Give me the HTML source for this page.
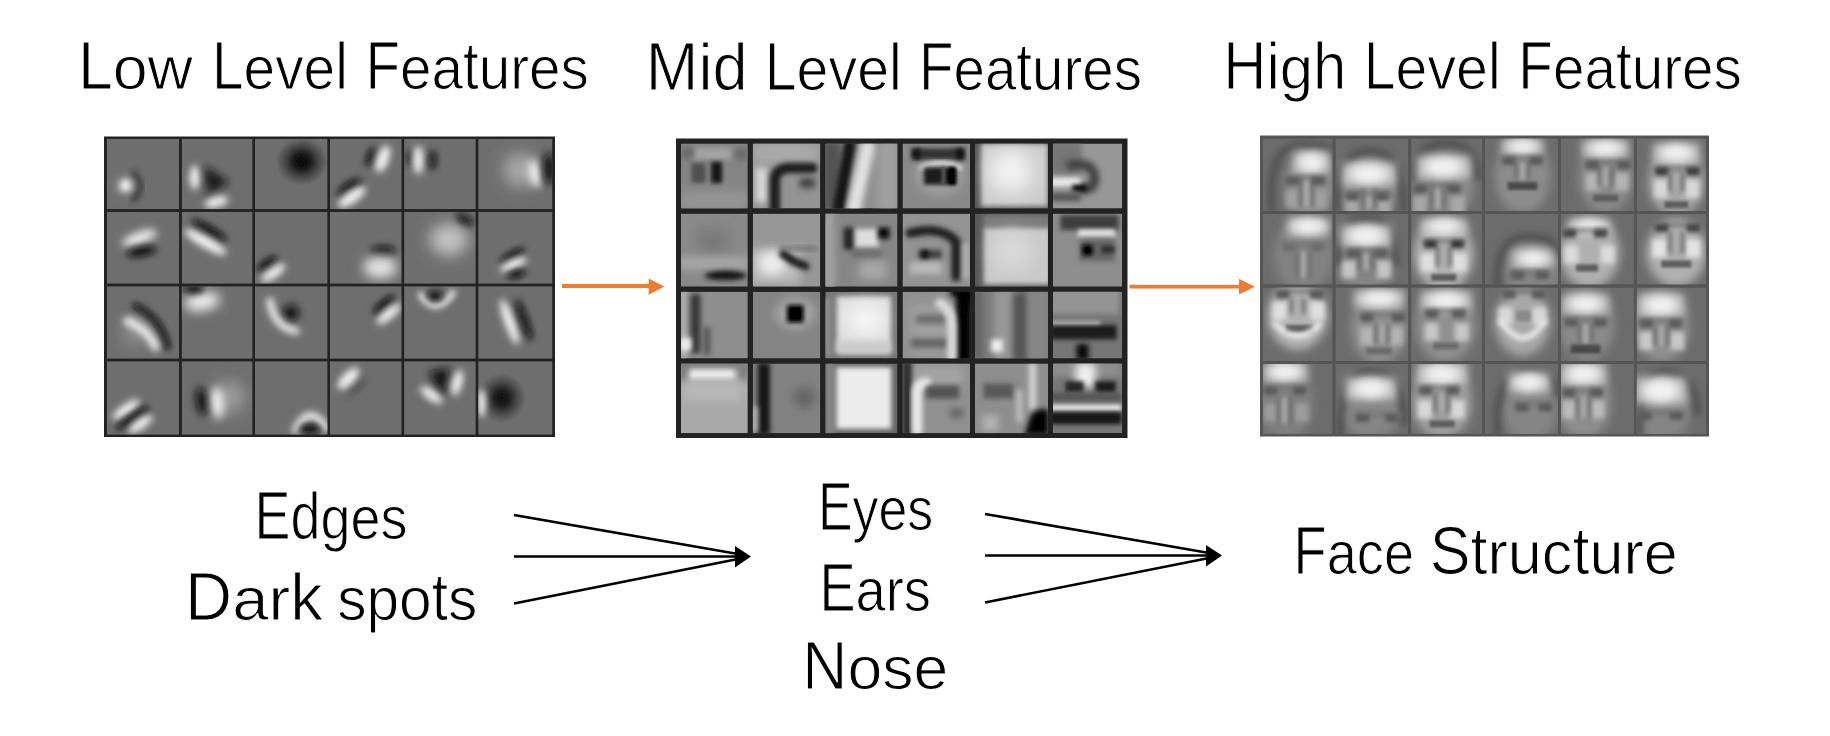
<!DOCTYPE html>
<html><head><meta charset="utf-8">
<style>
html,body{margin:0;padding:0;background:#fff;width:1830px;height:736px;overflow:hidden}
svg{display:block}
text{font-family:"Liberation Sans",sans-serif;fill:#000;stroke:#fff;stroke-width:1.1px;paint-order:normal}
</style></head><body>
<svg width="1830" height="736" viewBox="0 0 1830 736">
<defs>
<radialGradient id="rg1"><stop offset="0" stop-color="#000000" stop-opacity="0.95"/><stop offset="0.3" stop-color="#000000" stop-opacity="0.8"/><stop offset="0.65" stop-color="#000000" stop-opacity="0.35"/><stop offset="1" stop-color="#000000" stop-opacity="0"/></radialGradient>
<radialGradient id="rg2"><stop offset="0" stop-color="#0a0a0a" stop-opacity="0.95"/><stop offset="0.3" stop-color="#0a0a0a" stop-opacity="0.8"/><stop offset="0.65" stop-color="#0a0a0a" stop-opacity="0.35"/><stop offset="1" stop-color="#0a0a0a" stop-opacity="0"/></radialGradient>
<filter id="mgam" x="0" y="0" width="1830" height="736" filterUnits="userSpaceOnUse"><feComponentTransfer><feFuncR type="gamma" exponent="1.25"/><feFuncG type="gamma" exponent="1.25"/><feFuncB type="gamma" exponent="1.25"/></feComponentTransfer></filter>
<filter id="gblur" x="0" y="0" width="1830" height="736" filterUnits="userSpaceOnUse"><feGaussianBlur stdDeviation="0.7"/></filter>
<filter id="b1_50" x="-80%" y="-80%" width="260%" height="260%"><feGaussianBlur stdDeviation="1.5"/></filter>
<filter id="b1_75" x="-80%" y="-80%" width="260%" height="260%"><feGaussianBlur stdDeviation="1.75"/></filter>
<filter id="b2_00" x="-80%" y="-80%" width="260%" height="260%"><feGaussianBlur stdDeviation="2.0"/></filter>
<filter id="b2_25" x="-80%" y="-80%" width="260%" height="260%"><feGaussianBlur stdDeviation="2.25"/></filter>
<filter id="b2_50" x="-80%" y="-80%" width="260%" height="260%"><feGaussianBlur stdDeviation="2.5"/></filter>
<filter id="b3_00" x="-80%" y="-80%" width="260%" height="260%"><feGaussianBlur stdDeviation="3.0"/></filter>
<filter id="b3_25" x="-80%" y="-80%" width="260%" height="260%"><feGaussianBlur stdDeviation="3.25"/></filter>
<filter id="b3_50" x="-80%" y="-80%" width="260%" height="260%"><feGaussianBlur stdDeviation="3.5"/></filter>
<filter id="b4_00" x="-80%" y="-80%" width="260%" height="260%"><feGaussianBlur stdDeviation="4.0"/></filter>
<filter id="b4_25" x="-80%" y="-80%" width="260%" height="260%"><feGaussianBlur stdDeviation="4.25"/></filter>
<filter id="b4_50" x="-80%" y="-80%" width="260%" height="260%"><feGaussianBlur stdDeviation="4.5"/></filter>
<filter id="b4_75" x="-80%" y="-80%" width="260%" height="260%"><feGaussianBlur stdDeviation="4.75"/></filter>
<filter id="b5_00" x="-80%" y="-80%" width="260%" height="260%"><feGaussianBlur stdDeviation="5.0"/></filter>
<filter id="b5_75" x="-80%" y="-80%" width="260%" height="260%"><feGaussianBlur stdDeviation="5.75"/></filter>
<filter id="b6_50" x="-80%" y="-80%" width="260%" height="260%"><feGaussianBlur stdDeviation="6.5"/></filter>
<filter id="b7_25" x="-80%" y="-80%" width="260%" height="260%"><feGaussianBlur stdDeviation="7.25"/></filter>
<filter id="b8_00" x="-80%" y="-80%" width="260%" height="260%"><feGaussianBlur stdDeviation="8.0"/></filter>
<filter id="b9_50" x="-80%" y="-80%" width="260%" height="260%"><feGaussianBlur stdDeviation="9.5"/></filter>
<clipPath id="L00"><rect x="106.7" y="138.7" width="72.5" height="70.6"/></clipPath>
<clipPath id="L01"><rect x="181.6" y="138.7" width="71" height="70.6"/></clipPath>
<clipPath id="L02"><rect x="255" y="138.7" width="72.6" height="70.6"/></clipPath>
<clipPath id="L03"><rect x="330" y="138.7" width="71.7" height="70.6"/></clipPath>
<clipPath id="L04"><rect x="404.1" y="138.7" width="71.7" height="70.6"/></clipPath>
<clipPath id="L05"><rect x="478.2" y="138.7" width="74.3" height="70.6"/></clipPath>
<clipPath id="L10"><rect x="106.7" y="211.7" width="72.5" height="72.1"/></clipPath>
<clipPath id="L11"><rect x="181.6" y="211.7" width="71" height="72.1"/></clipPath>
<clipPath id="L12"><rect x="255" y="211.7" width="72.6" height="72.1"/></clipPath>
<clipPath id="L13"><rect x="330" y="211.7" width="71.7" height="72.1"/></clipPath>
<clipPath id="L14"><rect x="404.1" y="211.7" width="71.7" height="72.1"/></clipPath>
<clipPath id="L15"><rect x="478.2" y="211.7" width="74.3" height="72.1"/></clipPath>
<clipPath id="L20"><rect x="106.7" y="286.2" width="72.5" height="72.6"/></clipPath>
<clipPath id="L21"><rect x="181.6" y="286.2" width="71" height="72.6"/></clipPath>
<clipPath id="L22"><rect x="255" y="286.2" width="72.6" height="72.6"/></clipPath>
<clipPath id="L23"><rect x="330" y="286.2" width="71.7" height="72.6"/></clipPath>
<clipPath id="L24"><rect x="404.1" y="286.2" width="71.7" height="72.6"/></clipPath>
<clipPath id="L25"><rect x="478.2" y="286.2" width="74.3" height="72.6"/></clipPath>
<clipPath id="L30"><rect x="106.7" y="361.2" width="72.5" height="73.6"/></clipPath>
<clipPath id="L31"><rect x="181.6" y="361.2" width="71" height="73.6"/></clipPath>
<clipPath id="L32"><rect x="255" y="361.2" width="72.6" height="73.6"/></clipPath>
<clipPath id="L33"><rect x="330" y="361.2" width="71.7" height="73.6"/></clipPath>
<clipPath id="L34"><rect x="404.1" y="361.2" width="71.7" height="73.6"/></clipPath>
<clipPath id="L35"><rect x="478.2" y="361.2" width="74.3" height="73.6"/></clipPath>
<clipPath id="M00"><rect x="681" y="143.5" width="66.8" height="65.1"/></clipPath>
<clipPath id="M01"><rect x="752.8" y="143.5" width="67.5" height="65.1"/></clipPath>
<clipPath id="M02"><rect x="825.3" y="143.5" width="72.2" height="65.1"/></clipPath>
<clipPath id="M03"><rect x="902.5" y="143.5" width="67.5" height="65.1"/></clipPath>
<clipPath id="M04"><rect x="975" y="143.5" width="73" height="65.1"/></clipPath>
<clipPath id="M05"><rect x="1053" y="143.5" width="69.2" height="65.1"/></clipPath>
<clipPath id="M10"><rect x="681" y="213.6" width="66.8" height="73.1"/></clipPath>
<clipPath id="M11"><rect x="752.8" y="213.6" width="67.5" height="73.1"/></clipPath>
<clipPath id="M12"><rect x="825.3" y="213.6" width="72.2" height="73.1"/></clipPath>
<clipPath id="M13"><rect x="902.5" y="213.6" width="67.5" height="73.1"/></clipPath>
<clipPath id="M14"><rect x="975" y="213.6" width="73" height="73.1"/></clipPath>
<clipPath id="M15"><rect x="1053" y="213.6" width="69.2" height="73.1"/></clipPath>
<clipPath id="M20"><rect x="681" y="291.7" width="66.8" height="66.8"/></clipPath>
<clipPath id="M21"><rect x="752.8" y="291.7" width="67.5" height="66.8"/></clipPath>
<clipPath id="M22"><rect x="825.3" y="291.7" width="72.2" height="66.8"/></clipPath>
<clipPath id="M23"><rect x="902.5" y="291.7" width="67.5" height="66.8"/></clipPath>
<clipPath id="M24"><rect x="975" y="291.7" width="73" height="66.8"/></clipPath>
<clipPath id="M25"><rect x="1053" y="291.7" width="69.2" height="66.8"/></clipPath>
<clipPath id="M30"><rect x="681" y="363.5" width="66.8" height="69.8"/></clipPath>
<clipPath id="M31"><rect x="752.8" y="363.5" width="67.5" height="69.8"/></clipPath>
<clipPath id="M32"><rect x="825.3" y="363.5" width="72.2" height="69.8"/></clipPath>
<clipPath id="M33"><rect x="902.5" y="363.5" width="67.5" height="69.8"/></clipPath>
<clipPath id="M34"><rect x="975" y="363.5" width="73" height="69.8"/></clipPath>
<clipPath id="M35"><rect x="1053" y="363.5" width="69.2" height="69.8"/></clipPath>
<clipPath id="R00"><rect x="1262.9" y="138.4" width="69.7" height="72.7"/></clipPath>
<clipPath id="R01"><rect x="1335.4" y="138.4" width="72.9" height="72.7"/></clipPath>
<clipPath id="R02"><rect x="1411.1" y="138.4" width="71" height="72.7"/></clipPath>
<clipPath id="R03"><rect x="1484.9" y="138.4" width="73.2" height="72.7"/></clipPath>
<clipPath id="R04"><rect x="1560.9" y="138.4" width="73" height="72.7"/></clipPath>
<clipPath id="R05"><rect x="1636.7" y="138.4" width="69.4" height="72.7"/></clipPath>
<clipPath id="R10"><rect x="1262.9" y="213.9" width="69.7" height="70.7"/></clipPath>
<clipPath id="R11"><rect x="1335.4" y="213.9" width="72.9" height="70.7"/></clipPath>
<clipPath id="R12"><rect x="1411.1" y="213.9" width="71" height="70.7"/></clipPath>
<clipPath id="R13"><rect x="1484.9" y="213.9" width="73.2" height="70.7"/></clipPath>
<clipPath id="R14"><rect x="1560.9" y="213.9" width="73" height="70.7"/></clipPath>
<clipPath id="R15"><rect x="1636.7" y="213.9" width="69.4" height="70.7"/></clipPath>
<clipPath id="R20"><rect x="1262.9" y="287.4" width="69.7" height="73.7"/></clipPath>
<clipPath id="R21"><rect x="1335.4" y="287.4" width="72.9" height="73.7"/></clipPath>
<clipPath id="R22"><rect x="1411.1" y="287.4" width="71" height="73.7"/></clipPath>
<clipPath id="R23"><rect x="1484.9" y="287.4" width="73.2" height="73.7"/></clipPath>
<clipPath id="R24"><rect x="1560.9" y="287.4" width="73" height="73.7"/></clipPath>
<clipPath id="R25"><rect x="1636.7" y="287.4" width="69.4" height="73.7"/></clipPath>
<clipPath id="R30"><rect x="1262.9" y="363.9" width="69.7" height="70.2"/></clipPath>
<clipPath id="R31"><rect x="1335.4" y="363.9" width="72.9" height="70.2"/></clipPath>
<clipPath id="R32"><rect x="1411.1" y="363.9" width="71" height="70.2"/></clipPath>
<clipPath id="R33"><rect x="1484.9" y="363.9" width="73.2" height="70.2"/></clipPath>
<clipPath id="R34"><rect x="1560.9" y="363.9" width="73" height="70.2"/></clipPath>
<clipPath id="R35"><rect x="1636.7" y="363.9" width="69.4" height="70.2"/></clipPath>
</defs>
<g filter="url(#gblur)">
<rect x="104" y="136.5" width="451" height="300.5" fill="#222222"/>
<g clip-path="url(#L00)"><rect x="106.7" y="138.7" width="72.5" height="70.6" fill="#6e6e6e"/><g transform="translate(105.5 137.5)"><path d="M28,36 Q40,48 28,62" fill="none" stroke="#282828" stroke-width="5" stroke-linecap="round" filter="url(#b3_00)"/><ellipse cx="19" cy="48" rx="11" ry="11" fill="#7e7e7e" filter="url(#b4_25)"/><ellipse cx="20" cy="48" rx="6" ry="6.5" fill="#f4f4f4" filter="url(#b3_25)"/></g></g>
<g clip-path="url(#L01)"><rect x="181.6" y="138.7" width="71" height="70.6" fill="#6e6e6e"/><g transform="translate(180.4 137.5)"><ellipse cx="14.4" cy="40" rx="5" ry="12" fill="#f4f4f4" filter="url(#b3_50)"/><path d="M24,28 L49,45 L27,57z" fill="#151515" filter="url(#b4_25)"/><ellipse cx="36" cy="64.6" rx="12" ry="5" fill="#f4f4f4" transform="rotate(-15 36 64.6)" filter="url(#b3_50)"/></g></g>
<g clip-path="url(#L02)"><rect x="255" y="138.7" width="72.6" height="70.6" fill="#6e6e6e"/><g transform="translate(253.8 137.5)"><ellipse cx="48" cy="24" rx="26" ry="24" fill="url(#rg1)"/></g></g>
<g clip-path="url(#L03)"><rect x="330" y="138.7" width="71.7" height="70.6" fill="#6e6e6e"/><g transform="translate(328.8 137.5)"><ellipse cx="42" cy="19.5" rx="4" ry="10" fill="#0e0e0e" transform="rotate(20 42 19.5)" filter="url(#b3_50)"/><ellipse cx="54" cy="21.5" rx="6" ry="14" fill="#f4f4f4" transform="rotate(20 54 21.5)" filter="url(#b3_50)"/><ellipse cx="20.5" cy="50" rx="14" ry="5" fill="#0e0e0e" transform="rotate(-35 20.5 50)" filter="url(#b3_50)"/><ellipse cx="23" cy="59.5" rx="16" ry="6" fill="#f4f4f4" transform="rotate(-35 23 59.5)" filter="url(#b3_50)"/></g></g>
<g clip-path="url(#L04)"><rect x="404.1" y="138.7" width="71.7" height="70.6" fill="#6e6e6e"/><g transform="translate(402.9 137.5)"><ellipse cx="6" cy="20.5" rx="3" ry="8" fill="#222" filter="url(#b3_00)"/><ellipse cx="15.4" cy="22.6" rx="5" ry="14" fill="#f4f4f4" filter="url(#b3_50)"/><ellipse cx="29.8" cy="22.6" rx="3.5" ry="10" fill="#0e0e0e" filter="url(#b3_50)"/></g></g>
<g clip-path="url(#L05)"><rect x="478.2" y="138.7" width="74.3" height="70.6" fill="#6e6e6e"/><g transform="translate(477 137.5)"><ellipse cx="43.5" cy="32.8" rx="17" ry="17" fill="#a8a8a8" filter="url(#b7_25)"/><ellipse cx="57.9" cy="36" rx="6" ry="14" fill="#f4f4f4" transform="rotate(-10 57.9 36)" filter="url(#b4_25)"/><ellipse cx="72" cy="31" rx="6" ry="16" fill="#0e0e0e" filter="url(#b4_25)"/></g></g>
<g clip-path="url(#L10)"><rect x="106.7" y="211.7" width="72.5" height="72.1" fill="#6e6e6e"/><g transform="translate(105.5 210.5)"><ellipse cx="34" cy="27.5" rx="18" ry="6" fill="#f4f4f4" transform="rotate(-20 34 27.5)" filter="url(#b4_25)"/><ellipse cx="36" cy="41" rx="15" ry="5" fill="#0e0e0e" transform="rotate(-10 36 41)" filter="url(#b3_50)"/></g></g>
<g clip-path="url(#L11)"><rect x="181.6" y="211.7" width="71" height="72.1" fill="#6e6e6e"/><g transform="translate(180.4 210.5)"><ellipse cx="29" cy="20" rx="20" ry="4.5" fill="#0e0e0e" transform="rotate(30 29 20)" filter="url(#b3_50)"/><ellipse cx="25" cy="31.6" rx="24" ry="5.5" fill="#f4f4f4" transform="rotate(30 25 31.6)" filter="url(#b3_50)"/></g></g>
<g clip-path="url(#L12)"><rect x="255" y="211.7" width="72.6" height="72.1" fill="#6e6e6e"/><g transform="translate(253.8 210.5)"><ellipse cx="13.3" cy="53" rx="12" ry="4" fill="#0e0e0e" transform="rotate(-35 13.3 53)" filter="url(#b3_00)"/><ellipse cx="19.5" cy="62.4" rx="14" ry="5" fill="#f4f4f4" transform="rotate(-35 19.5 62.4)" filter="url(#b3_50)"/></g></g>
<g clip-path="url(#L13)"><rect x="330" y="211.7" width="71.7" height="72.1" fill="#6e6e6e"/><g transform="translate(328.8 210.5)"><ellipse cx="54.4" cy="40" rx="12" ry="4.5" fill="#0e0e0e" filter="url(#b3_50)"/><ellipse cx="51.3" cy="57" rx="17" ry="11" fill="#e4e4e4" filter="url(#b5_75)"/></g></g>
<g clip-path="url(#L14)"><rect x="404.1" y="211.7" width="71.7" height="72.1" fill="#6e6e6e"/><g transform="translate(402.9 210.5)"><ellipse cx="46" cy="29" rx="19" ry="16" fill="#c4c4c4" filter="url(#b7_25)"/><ellipse cx="62" cy="9" rx="10" ry="4" fill="#0e0e0e" transform="rotate(30 62 9)" filter="url(#b3_50)"/></g></g>
<g clip-path="url(#L15)"><rect x="478.2" y="211.7" width="74.3" height="72.1" fill="#6e6e6e"/><g transform="translate(477 210.5)"><ellipse cx="35.3" cy="45" rx="14" ry="4" fill="#0e0e0e" transform="rotate(-30 35.3 45)" filter="url(#b3_00)"/><ellipse cx="36.3" cy="54" rx="14" ry="5" fill="#f4f4f4" transform="rotate(-25 36.3 54)" filter="url(#b3_50)"/><ellipse cx="39.4" cy="63.5" rx="10" ry="4" fill="#0e0e0e" transform="rotate(-15 39.4 63.5)" filter="url(#b3_00)"/></g></g>
<g clip-path="url(#L20)"><rect x="106.7" y="286.2" width="72.5" height="72.6" fill="#6e6e6e"/><g transform="translate(105.5 285)"><ellipse cx="30" cy="48" rx="14" ry="14" fill="#8a8a8a" filter="url(#b7_25)"/><path d="M30,21 Q56,33 62,62" fill="none" stroke="#0e0e0e" stroke-width="6" stroke-linecap="round" filter="url(#b3_25)"/><path d="M22,36 Q44,46 50,62" fill="none" stroke="#f4f4f4" stroke-width="8" stroke-linecap="round" filter="url(#b3_50)"/></g></g>
<g clip-path="url(#L21)"><rect x="181.6" y="286.2" width="71" height="72.6" fill="#6e6e6e"/><g transform="translate(180.4 285)"><ellipse cx="21.7" cy="16.5" rx="18" ry="9" fill="#f4f4f4" transform="rotate(-10 21.7 16.5)" filter="url(#b5_75)"/><ellipse cx="13.4" cy="4" rx="10" ry="4" fill="#0e0e0e" filter="url(#b3_00)"/></g></g>
<g clip-path="url(#L22)"><rect x="255" y="286.2" width="72.6" height="72.6" fill="#6e6e6e"/><g transform="translate(253.8 285)"><ellipse cx="37" cy="28" rx="8" ry="8" fill="#0e0e0e" filter="url(#b4_25)"/><path d="M16,16 Q20,42 42,46" fill="none" stroke="#f4f4f4" stroke-width="7" stroke-linecap="round" filter="url(#b3_50)"/></g></g>
<g clip-path="url(#L23)"><rect x="330" y="286.2" width="71.7" height="72.6" fill="#6e6e6e"/><g transform="translate(328.8 285)"><ellipse cx="55" cy="19.6" rx="14" ry="4" fill="#0e0e0e" transform="rotate(-40 55 19.6)" filter="url(#b3_00)"/><ellipse cx="60" cy="29" rx="15" ry="5" fill="#f4f4f4" transform="rotate(-40 60 29)" filter="url(#b3_50)"/></g></g>
<g clip-path="url(#L24)"><rect x="404.1" y="286.2" width="71.7" height="72.6" fill="#6e6e6e"/><g transform="translate(402.9 285)"><path d="M18,10 Q33,32 50,8" fill="none" stroke="#f4f4f4" stroke-width="6" stroke-linecap="round" filter="url(#b3_25)"/><ellipse cx="32" cy="11" rx="8" ry="5" fill="#0e0e0e" filter="url(#b3_50)"/></g></g>
<g clip-path="url(#L25)"><rect x="478.2" y="286.2" width="74.3" height="72.6" fill="#6e6e6e"/><g transform="translate(477 285)"><ellipse cx="32.6" cy="37" rx="5" ry="24" fill="#f4f4f4" transform="rotate(-20 32.6 37)" filter="url(#b3_50)"/><ellipse cx="47" cy="35" rx="4" ry="22" fill="#0e0e0e" transform="rotate(-20 47 35)" filter="url(#b3_50)"/></g></g>
<g clip-path="url(#L30)"><rect x="106.7" y="361.2" width="72.5" height="73.6" fill="#6e6e6e"/><g transform="translate(105.5 360)"><ellipse cx="20.7" cy="49.6" rx="16" ry="5" fill="#f4f4f4" transform="rotate(-35 20.7 49.6)" filter="url(#b3_50)"/><ellipse cx="26.9" cy="57.9" rx="20" ry="4" fill="#0e0e0e" transform="rotate(-35 26.9 57.9)" filter="url(#b3_00)"/><ellipse cx="35" cy="64" rx="14" ry="5" fill="#f4f4f4" transform="rotate(-35 35 64)" filter="url(#b3_50)"/></g></g>
<g clip-path="url(#L31)"><rect x="181.6" y="361.2" width="71" height="73.6" fill="#6e6e6e"/><g transform="translate(180.4 360)"><ellipse cx="48.6" cy="37" rx="16" ry="16" fill="#9c9c9c" filter="url(#b7_25)"/><ellipse cx="21.7" cy="41.3" rx="6" ry="14" fill="#0e0e0e" transform="rotate(-10 21.7 41.3)" filter="url(#b4_25)"/><ellipse cx="37" cy="43" rx="6" ry="16" fill="#f4f4f4" transform="rotate(-5 37 43)" filter="url(#b4_25)"/></g></g>
<g clip-path="url(#L32)"><rect x="255" y="361.2" width="72.6" height="73.6" fill="#6e6e6e"/><g transform="translate(253.8 360)"><path d="M42,70 Q56,42 72,68" fill="none" stroke="#f4f4f4" stroke-width="7" stroke-linecap="round" filter="url(#b3_50)"/><ellipse cx="56" cy="69" rx="11" ry="4.5" fill="#0e0e0e" filter="url(#b3_25)"/></g></g>
<g clip-path="url(#L33)"><rect x="330" y="361.2" width="71.7" height="73.6" fill="#6e6e6e"/><g transform="translate(328.8 360)"><ellipse cx="28" cy="26" rx="12" ry="3" fill="#404040" transform="rotate(-45 28 26)" filter="url(#b4_25)"/><ellipse cx="19.6" cy="18.6" rx="14" ry="6" fill="#f4f4f4" transform="rotate(-45 19.6 18.6)" filter="url(#b3_50)"/></g></g>
<g clip-path="url(#L34)"><rect x="404.1" y="361.2" width="71.7" height="73.6" fill="#6e6e6e"/><g transform="translate(402.9 360)"><path d="M26,12 L47,8 L40,38z" fill="#0e0e0e" filter="url(#b4_25)"/><ellipse cx="54.3" cy="22.7" rx="5" ry="13" fill="#f4f4f4" transform="rotate(15 54.3 22.7)" filter="url(#b3_50)"/><ellipse cx="28.5" cy="35" rx="13" ry="5" fill="#f4f4f4" transform="rotate(35 28.5 35)" filter="url(#b3_50)"/></g></g>
<g clip-path="url(#L35)"><rect x="478.2" y="361.2" width="74.3" height="73.6" fill="#6e6e6e"/><g transform="translate(477 360)"><ellipse cx="25" cy="38" rx="24" ry="25" fill="url(#rg2)"/><ellipse cx="4.8" cy="43" rx="4" ry="14" fill="#f4f4f4" filter="url(#b3_00)"/></g></g>
<g filter="url(#mgam)">
<rect x="676" y="138.5" width="451.5" height="299.5" fill="#383838"/>
<g clip-path="url(#M00)"><rect x="681" y="143.5" width="66.8" height="65.1" fill="#989898"/><g transform="translate(678.5 141)"><rect x="14.5" y="6.9" width="45" height="11.5" fill="#b4b4b4" filter="url(#b2_50)"/><rect x="3" y="7" width="12" height="10" fill="#7a7a7a" filter="url(#b3_25)"/><rect x="54" y="7" width="16" height="12" fill="#808080" filter="url(#b3_25)"/><rect x="13" y="22" width="14" height="20" fill="#666666" filter="url(#b2_00)"/><rect x="32.8" y="21" width="10.5" height="21" fill="#2a2a2a" filter="url(#b2_00)"/><rect x="2" y="50" width="66" height="20" fill="#a5a5a5" filter="url(#b4_75)"/></g></g>
<g clip-path="url(#M01)"><rect x="752.8" y="143.5" width="67.5" height="65.1" fill="#a5a5a5"/><g transform="translate(750.3 141)"><rect x="2" y="2" width="66" height="20" fill="#b8b8b8" filter="url(#b4_75)"/><rect x="5" y="26.5" width="12" height="35" fill="#e0e0e0" filter="url(#b3_25)"/><path d="M24.5,72 L24.5,38 Q26,27 40,27 L62,27" fill="none" stroke="#303030" stroke-width="10" stroke-linecap="round" filter="url(#b2_50)"/><rect x="49.5" y="37" width="15" height="10" fill="#5a5a5a" filter="url(#b3_25)"/></g></g>
<g clip-path="url(#M02)"><rect x="825.3" y="143.5" width="72.2" height="65.1" fill="#a0a0a0"/><g transform="translate(822.8 141)"><rect x="0" y="0" width="18" height="70" fill="#6a6a6a" filter="url(#b3_25)"/><rect x="55" y="0" width="20" height="70" fill="#b0b0b0" filter="url(#b4_75)"/><path d="M27,4 L16,68" fill="none" stroke="#2a2a2a" stroke-width="12" stroke-linecap="round" filter="url(#b2_50)"/><path d="M45,6 L31,68" fill="none" stroke="#e8e8e8" stroke-width="14" stroke-linecap="round" filter="url(#b3_25)"/></g></g>
<g clip-path="url(#M03)"><rect x="902.5" y="143.5" width="67.5" height="65.1" fill="#9c9c9c"/><g transform="translate(900 141)"><ellipse cx="40" cy="34" rx="24" ry="20" fill="#b0b0b0" filter="url(#b4_75)"/><rect x="14.5" y="7.5" width="49" height="11" fill="#4a4a4a" filter="url(#b2_00)"/><rect x="11.5" y="7.5" width="9" height="11" fill="#2a2a2a" filter="url(#b2_00)"/><rect x="55.5" y="7.5" width="9" height="11" fill="#2a2a2a" filter="url(#b2_00)"/><path d="M22,27 Q40,18 60,27" fill="none" stroke="#e4e4e4" stroke-width="5" stroke-linecap="round" filter="url(#b2_00)"/><rect x="24" y="26.5" width="32" height="17" fill="#333333" filter="url(#b2_00)"/><rect x="41.5" y="26.5" width="4" height="17" fill="#707070" filter="url(#b1_50)"/><rect x="48.5" y="26.5" width="7" height="17" fill="#101010" filter="url(#b1_50)"/></g></g>
<g clip-path="url(#M04)"><rect x="975" y="143.5" width="73" height="65.1" fill="#707070"/><g transform="translate(972.5 141)"><rect x="8.5" y="2.5" width="67" height="63" fill="#d6d6d6" filter="url(#b2_50)"/><ellipse cx="38" cy="30" rx="22" ry="22" fill="#f6f6f6" filter="url(#b9_50)"/></g></g>
<g clip-path="url(#M05)"><rect x="1053" y="143.5" width="69.2" height="65.1" fill="#a8a8a8"/><g transform="translate(1050.5 141)"><rect x="-1" y="-1" width="32" height="34" fill="#8a8a8a" filter="url(#b3_25)"/><path d="M20,24 Q44,20 44,38 Q44,50 30,48" fill="none" stroke="#555555" stroke-width="9" stroke-linecap="round" filter="url(#b3_25)"/><rect x="0" y="36.5" width="30" height="9" fill="#ececec" filter="url(#b2_00)"/><rect x="22" y="44" width="14" height="6" fill="#1a1a1a" filter="url(#b2_00)"/><rect x="0" y="52" width="30" height="8" fill="#6a6a6a" filter="url(#b2_50)"/></g></g>
<g clip-path="url(#M10)"><rect x="681" y="213.6" width="66.8" height="73.1" fill="#9c9c9c"/><g transform="translate(678.5 211.1)"><rect x="20" y="17.5" width="30" height="25" fill="#8e8e8e" filter="url(#b6_50)"/><rect x="0" y="46.5" width="70" height="11" fill="#bcbcbc" filter="url(#b4_75)"/><ellipse cx="47" cy="64.5" rx="21" ry="4.5" fill="#262626" filter="url(#b2_50)"/></g></g>
<g clip-path="url(#M11)"><rect x="752.8" y="213.6" width="67.5" height="73.1" fill="#a8a8a8"/><g transform="translate(750.3 211.1)"><rect x="0" y="37.5" width="50" height="35" fill="#c8c8c8" filter="url(#b4_75)"/><ellipse cx="22" cy="52" rx="14" ry="12" fill="#f0f0f0" filter="url(#b4_75)"/><path d="M33,43 L43,50 L55,55" fill="none" stroke="#303030" stroke-width="8" stroke-linecap="round" filter="url(#b2_50)"/><rect x="29" y="36" width="38" height="3" fill="#7a7a7a" filter="url(#b2_50)"/></g></g>
<g clip-path="url(#M12)"><rect x="825.3" y="213.6" width="72.2" height="73.1" fill="#9a9a9a"/><g transform="translate(822.8 211.1)"><rect x="0" y="1" width="12" height="78" fill="#b0b0b0" filter="url(#b3_25)"/><rect x="21" y="16.5" width="10" height="22" fill="#3a3a3a" filter="url(#b2_50)"/><rect x="32.5" y="17.8" width="23" height="18.5" fill="#e4e4e4" filter="url(#b2_50)"/><rect x="55.5" y="16.5" width="11" height="11" fill="#1a1a1a" filter="url(#b2_50)"/><rect x="29" y="39.5" width="30" height="7" fill="#7a7a7a" filter="url(#b3_25)"/><rect x="36.5" y="50" width="27" height="18" fill="#b8b8b8" filter="url(#b4_75)"/></g></g>
<g clip-path="url(#M13)"><rect x="902.5" y="213.6" width="67.5" height="73.1" fill="#a4a4a4"/><g transform="translate(900 211.1)"><path d="M10,22 Q40,14 56,30 L56,66" fill="none" stroke="#363636" stroke-width="9" stroke-linecap="round" filter="url(#b2_50)"/><rect x="18.5" y="39" width="23" height="9" fill="#555555" filter="url(#b2_50)"/><rect x="21.5" y="39" width="7" height="9" fill="#2a2a2a" filter="url(#b2_00)"/><rect x="10" y="51" width="32" height="12" fill="#c8c8c8" filter="url(#b3_25)"/><rect x="63" y="32.5" width="6" height="35" fill="#c0c0c0" filter="url(#b2_50)"/></g></g>
<g clip-path="url(#M14)"><rect x="975" y="213.6" width="73" height="73.1" fill="#707070"/><g transform="translate(972.5 211.1)"><rect x="11" y="3.5" width="67" height="13" fill="#909090" filter="url(#b2_50)"/><rect x="11" y="16.5" width="67" height="57" fill="#d4d4d4" filter="url(#b2_50)"/><ellipse cx="40" cy="40" rx="20" ry="20" fill="#e0e0e0" filter="url(#b8_00)"/></g></g>
<g clip-path="url(#M15)"><rect x="1053" y="213.6" width="69.2" height="73.1" fill="#a0a0a0"/><g transform="translate(1050.5 211.1)"><rect x="10" y="4" width="58" height="15" fill="#555555" filter="url(#b2_50)"/><rect x="27.5" y="18" width="37" height="8" fill="#e4e4e4" filter="url(#b2_00)"/><rect x="29" y="28" width="35" height="22" fill="#7a7a7a" filter="url(#b2_50)"/><rect x="32" y="34" width="10" height="10" fill="#101010" filter="url(#b2_00)"/><rect x="51" y="35" width="13" height="7" fill="#444444" filter="url(#b2_00)"/></g></g>
<g clip-path="url(#M20)"><rect x="681" y="291.7" width="66.8" height="66.8" fill="#a0a0a0"/><g transform="translate(678.5 289.2)"><rect x="1" y="0" width="8" height="70" fill="#bcbcbc" filter="url(#b2_50)"/><rect x="12" y="5" width="10" height="59" fill="#505050" filter="url(#b2_50)"/><rect x="1" y="48.5" width="12" height="13" fill="#f0f0f0" filter="url(#b2_50)"/><rect x="25" y="38" width="7" height="28" fill="#707070" filter="url(#b2_50)"/></g></g>
<g clip-path="url(#M21)"><rect x="752.8" y="291.7" width="67.5" height="66.8" fill="#989898"/><g transform="translate(750.3 289.2)"><ellipse cx="45" cy="24" rx="20" ry="16" fill="#b4b4b4" filter="url(#b4_75)"/><rect x="37" y="16" width="16" height="17" fill="#101010" filter="url(#b2_00)"/></g></g>
<g clip-path="url(#M22)"><rect x="825.3" y="291.7" width="72.2" height="66.8" fill="#8c8c8c"/><g transform="translate(822.8 289.2)"><rect x="0.5" y="9" width="8" height="58" fill="#a0a0a0" filter="url(#b2_50)"/><rect x="14" y="7.2" width="54" height="57" fill="#e6e6e6" filter="url(#b2_50)"/><ellipse cx="43" cy="30" rx="18" ry="16" fill="#f8f8f8" filter="url(#b8_00)"/><rect x="14" y="52" width="54" height="12" fill="#d4d4d4" filter="url(#b3_25)"/></g></g>
<g clip-path="url(#M23)"><rect x="902.5" y="291.7" width="67.5" height="66.8" fill="#a2a2a2"/><g transform="translate(900 289.2)"><rect x="10" y="15" width="40" height="50" fill="#b0b0b0" filter="url(#b4_75)"/><rect x="16" y="26" width="32" height="8" fill="#7a7a7a" filter="url(#b3_25)"/><rect x="11" y="50" width="39" height="8" fill="#707070" filter="url(#b3_25)"/><rect x="56" y="0" width="16" height="76" fill="#1a1a1a" filter="url(#b2_50)"/><path d="M40,14 Q52,20 52,38 L52,68" fill="none" stroke="#e0e0e0" stroke-width="10" stroke-linecap="round" filter="url(#b2_50)"/><path d="M50,0 L80,0 L80,30 Q66,8 50,6z" fill="#1a1a1a" filter="url(#b2_50)"/></g></g>
<g clip-path="url(#M24)"><rect x="975" y="291.7" width="73" height="66.8" fill="#909090"/><g transform="translate(972.5 289.2)"><rect x="0" y="0" width="10" height="72" fill="#7a7a7a" filter="url(#b3_25)"/><rect x="21" y="0" width="20" height="72" fill="#a8a8a8" filter="url(#b3_25)"/><rect x="41" y="4" width="15" height="68" fill="#6a6a6a" filter="url(#b3_25)"/><rect x="18.5" y="50" width="12" height="13" fill="#f0f0f0" filter="url(#b2_50)"/><rect x="55" y="0" width="20" height="72" fill="#9a9a9a" filter="url(#b3_25)"/></g></g>
<g clip-path="url(#M25)"><rect x="1053" y="291.7" width="69.2" height="66.8" fill="#8a8a8a"/><g transform="translate(1050.5 289.2)"><rect x="-1" y="-1" width="70" height="26" fill="#a4a4a4" filter="url(#b2_50)"/><rect x="0" y="32.5" width="50" height="6" fill="#d8d8d8" filter="url(#b2_00)"/><rect x="0" y="36" width="66" height="14" fill="#303030" filter="url(#b2_00)"/><rect x="26" y="55" width="12" height="16" fill="#222222" filter="url(#b2_50)"/></g></g>
<g clip-path="url(#M30)"><rect x="681" y="363.5" width="66.8" height="69.8" fill="#b8b8b8"/><g transform="translate(678.5 361)"><rect x="0" y="0" width="70" height="8" fill="#8a8a8a" filter="url(#b3_25)"/><rect x="0" y="4" width="10" height="16" fill="#909090" filter="url(#b3_25)"/><rect x="60" y="4" width="10" height="16" fill="#909090" filter="url(#b3_25)"/><rect x="4" y="20" width="60" height="20" fill="#c4c4c4" filter="url(#b4_75)"/><rect x="11" y="8.5" width="45" height="9" fill="#f0f0f0" filter="url(#b2_50)"/></g></g>
<g clip-path="url(#M31)"><rect x="752.8" y="363.5" width="67.5" height="69.8" fill="#959595"/><g transform="translate(750.3 361)"><rect x="7.5" y="2" width="12" height="72" fill="#2a2a2a" filter="url(#b2_50)"/><rect x="0.5" y="45.5" width="7" height="25" fill="#c0c0c0" filter="url(#b2_50)"/><ellipse cx="54" cy="36.5" rx="11" ry="10" fill="#7a7a7a" filter="url(#b4_75)"/></g></g>
<g clip-path="url(#M32)"><rect x="825.3" y="363.5" width="72.2" height="69.8" fill="#7a7a7a"/><g transform="translate(822.8 361)"><rect x="3" y="1" width="8" height="74" fill="#a0a0a0" filter="url(#b3_25)"/><rect x="13.5" y="6" width="55" height="62" fill="#f0f0f0" filter="url(#b2_50)"/></g></g>
<g clip-path="url(#M33)"><rect x="902.5" y="363.5" width="67.5" height="69.8" fill="#a2a2a2"/><g transform="translate(900 361)"><rect x="13" y="5" width="50" height="20" fill="#b4b4b4" filter="url(#b4_75)"/><rect x="2.5" y="0" width="9" height="76" fill="#404040" filter="url(#b2_50)"/><path d="M17,70 L17,30 Q18,23 26,22" fill="none" stroke="#ececec" stroke-width="11" stroke-linecap="round" filter="url(#b2_50)"/><rect x="26" y="24.5" width="33" height="13" fill="#6a6a6a" filter="url(#b2_50)"/><rect x="50" y="47.5" width="13" height="9" fill="#7a7a7a" filter="url(#b3_25)"/></g></g>
<g clip-path="url(#M34)"><rect x="975" y="363.5" width="73" height="69.8" fill="#a0a0a0"/><g transform="translate(972.5 361)"><rect x="11" y="22.5" width="30" height="15" fill="#707070" filter="url(#b2_50)"/><rect x="43.5" y="29" width="7" height="32" fill="#c8c8c8" filter="url(#b2_50)"/><rect x="56" y="2" width="8" height="46" fill="#d8d8d8" filter="url(#b2_50)"/><rect x="10" y="54" width="16" height="16" fill="#c0c0c0" filter="url(#b3_25)"/><path d="M52,74 L58,56 Q62,48 72,48 L76,50 L76,74z" fill="#1a1a1a" filter="url(#b2_50)"/></g></g>
<g clip-path="url(#M35)"><rect x="1053" y="363.5" width="69.2" height="69.8" fill="#8c8c8c"/><g transform="translate(1050.5 361)"><rect x="-1" y="0" width="72" height="16" fill="#a0a0a0" filter="url(#b3_25)"/><rect x="25" y="2" width="20" height="24" fill="#f4f4f4" filter="url(#b4_00)"/><rect x="15" y="20.5" width="18" height="11" fill="#3a3a3a" filter="url(#b2_00)"/><rect x="45" y="20.5" width="20" height="11" fill="#333333" filter="url(#b2_00)"/><rect x="-1" y="32" width="72" height="8" fill="#6a6a6a" filter="url(#b2_50)"/><rect x="-1" y="43.8" width="72" height="6.5" fill="#f0f0f0" filter="url(#b2_00)"/><rect x="-1" y="51" width="72" height="12" fill="#2a2a2a" filter="url(#b2_00)"/></g></g>
</g>
<rect x="1260" y="135.5" width="449" height="301" fill="#545454"/>
<g clip-path="url(#R00)"><rect x="1262.9" y="138.4" width="69.7" height="72.7" fill="#6c6c6c"/><g transform="translate(1261.5 137)"><ellipse cx="48" cy="50" rx="24" ry="32" fill="#8e8e8e" filter="url(#b5_00)"/><path d="M10,72 Q6,8 40,8 Q70,8 72,16" fill="none" stroke="#535353" stroke-width="8" stroke-linecap="round" filter="url(#b3_00)"/><rect x="31.6" y="14.5" width="36.8" height="22" fill="#c6c6c6" filter="url(#b4_00)"/><ellipse cx="50" cy="25.5" rx="12" ry="9" fill="#f2f2f2" filter="url(#b4_50)"/><rect x="24" y="53" width="14" height="18" fill="#a0a0a0" filter="url(#b2_50)"/><rect x="51" y="53" width="14" height="18" fill="#a0a0a0" filter="url(#b2_50)"/><rect x="37.5" y="40" width="4" height="30" fill="#6a6a6a" filter="url(#b2_50)"/><rect x="48.5" y="40" width="4" height="30" fill="#6a6a6a" filter="url(#b2_50)"/><rect x="42.5" y="40" width="5" height="30" fill="#acacac" filter="url(#b2_00)"/><rect x="23" y="39" width="42" height="4" fill="#747474" filter="url(#b2_50)"/><rect x="24.5" y="40" width="13" height="8" fill="#5a5a5a" filter="url(#b2_25)"/><rect x="50.5" y="40" width="13" height="8" fill="#5a5a5a" filter="url(#b2_25)"/></g></g>
<g clip-path="url(#R01)"><rect x="1335.4" y="138.4" width="72.9" height="72.7" fill="#6c6c6c"/><g transform="translate(1334 137)"><ellipse cx="35" cy="50" rx="30" ry="30" fill="#8a8a8a" filter="url(#b5_00)"/><path d="M2,72 Q2,14 36,14 Q68,14 70,72" fill="none" stroke="#535353" stroke-width="8" stroke-linecap="round" filter="url(#b3_00)"/><rect x="8.3" y="25.6" width="53.4" height="22.9" fill="#c6c6c6" filter="url(#b4_00)"/><ellipse cx="35" cy="37" rx="17.4" ry="9.4" fill="#f2f2f2" filter="url(#b4_50)"/><rect x="11" y="62" width="14" height="18" fill="#a8a8a8" filter="url(#b2_50)"/><rect x="43" y="62" width="14" height="18" fill="#a8a8a8" filter="url(#b2_50)"/><rect x="27.5" y="52" width="4" height="20" fill="#6a6a6a" filter="url(#b2_50)"/><rect x="38.5" y="52" width="4" height="20" fill="#6a6a6a" filter="url(#b2_50)"/><rect x="32.5" y="52" width="5" height="20" fill="#acacac" filter="url(#b2_00)"/><rect x="10.5" y="54.5" width="46" height="4" fill="#747474" filter="url(#b2_50)"/><rect x="12" y="55.5" width="13" height="8" fill="#5a5a5a" filter="url(#b2_25)"/><rect x="42" y="55.5" width="13" height="8" fill="#5a5a5a" filter="url(#b2_25)"/></g></g>
<g clip-path="url(#R02)"><rect x="1411.1" y="138.4" width="71" height="72.7" fill="#6c6c6c"/><g transform="translate(1409.7 137)"><ellipse cx="34" cy="50" rx="30" ry="30" fill="#8a8a8a" filter="url(#b5_00)"/><path d="M4,40 Q6,6 36,6 Q66,6 68,40" fill="none" stroke="#535353" stroke-width="8" stroke-linecap="round" filter="url(#b3_00)"/><rect x="7.3" y="18.6" width="53.4" height="22.9" fill="#c6c6c6" filter="url(#b4_00)"/><ellipse cx="34" cy="30" rx="17.4" ry="9.4" fill="#f2f2f2" filter="url(#b4_50)"/><rect x="3" y="59" width="14" height="18" fill="#a8a8a8" filter="url(#b2_50)"/><rect x="41" y="59" width="14" height="18" fill="#a8a8a8" filter="url(#b2_50)"/><rect x="20.5" y="47.5" width="4" height="25" fill="#6a6a6a" filter="url(#b2_50)"/><rect x="31.5" y="47.5" width="4" height="25" fill="#6a6a6a" filter="url(#b2_50)"/><rect x="25.5" y="47.5" width="5" height="25" fill="#acacac" filter="url(#b2_00)"/><rect x="3" y="47" width="49" height="4" fill="#747474" filter="url(#b2_50)"/><rect x="4.5" y="48" width="13" height="8" fill="#5a5a5a" filter="url(#b2_25)"/><rect x="37.5" y="48" width="13" height="8" fill="#5a5a5a" filter="url(#b2_25)"/></g></g>
<g clip-path="url(#R03)"><rect x="1484.9" y="138.4" width="73.2" height="72.7" fill="#6c6c6c"/><g transform="translate(1483.5 137)"><ellipse cx="39" cy="40" rx="28" ry="36" fill="#8c8c8c" filter="url(#b5_00)"/><rect x="18.3" y="1.6" width="41.4" height="15.8" fill="#c6c6c6" filter="url(#b4_00)"/><ellipse cx="39" cy="9.5" rx="13.5" ry="6.5" fill="#f2f2f2" filter="url(#b4_50)"/><rect x="31.5" y="25" width="4" height="18" fill="#6a6a6a" filter="url(#b2_50)"/><rect x="42.5" y="25" width="4" height="18" fill="#6a6a6a" filter="url(#b2_50)"/><rect x="36.5" y="25" width="5" height="18" fill="#acacac" filter="url(#b2_00)"/><rect x="17.5" y="19" width="43" height="4" fill="#747474" filter="url(#b2_50)"/><rect x="19" y="20" width="13" height="8" fill="#5a5a5a" filter="url(#b2_25)"/><rect x="46" y="20" width="13" height="8" fill="#5a5a5a" filter="url(#b2_25)"/><rect x="24" y="45" width="30" height="8" fill="#4a4a4a" filter="url(#b1_75)"/></g></g>
<g clip-path="url(#R04)"><rect x="1560.9" y="138.4" width="73" height="72.7" fill="#6c6c6c"/><g transform="translate(1559.5 137)"><ellipse cx="46" cy="40" rx="27" ry="36" fill="#8a8a8a" filter="url(#b5_00)"/><rect x="23" y="2.7" width="46" height="17.6" fill="#c6c6c6" filter="url(#b4_00)"/><ellipse cx="46" cy="11.5" rx="15" ry="7.2" fill="#f2f2f2" filter="url(#b4_50)"/><rect x="26" y="36" width="14" height="18" fill="#b4b4b4" filter="url(#b2_50)"/><rect x="55" y="36" width="14" height="18" fill="#b4b4b4" filter="url(#b2_50)"/><rect x="38.5" y="30" width="4" height="20" fill="#6a6a6a" filter="url(#b2_50)"/><rect x="49.5" y="30" width="4" height="20" fill="#6a6a6a" filter="url(#b2_50)"/><rect x="43.5" y="30" width="5" height="20" fill="#acacac" filter="url(#b2_00)"/><rect x="25" y="23" width="47" height="4" fill="#747474" filter="url(#b2_50)"/><rect x="26.5" y="24" width="13" height="8" fill="#5a5a5a" filter="url(#b2_25)"/><rect x="57.5" y="24" width="13" height="8" fill="#5a5a5a" filter="url(#b2_25)"/><rect x="33.5" y="57.5" width="25" height="7" fill="#5c5c5c" filter="url(#b1_75)"/></g></g>
<g clip-path="url(#R05)"><rect x="1636.7" y="138.4" width="69.4" height="72.7" fill="#6c6c6c"/><g transform="translate(1635.3 137)"><ellipse cx="41" cy="45" rx="28" ry="34" fill="#a8a8a8" filter="url(#b5_00)"/><rect x="18" y="6.3" width="46" height="19.4" fill="#c6c6c6" filter="url(#b4_00)"/><ellipse cx="41" cy="16" rx="15" ry="7.9" fill="#f2f2f2" filter="url(#b4_50)"/><rect x="19" y="43" width="14" height="18" fill="#d8d8d8" filter="url(#b2_50)"/><rect x="50" y="43" width="14" height="18" fill="#d8d8d8" filter="url(#b2_50)"/><rect x="33.5" y="35" width="4" height="20" fill="#6a6a6a" filter="url(#b2_50)"/><rect x="44.5" y="35" width="4" height="20" fill="#6a6a6a" filter="url(#b2_50)"/><rect x="38.5" y="35" width="5" height="20" fill="#acacac" filter="url(#b2_00)"/><rect x="18.5" y="29.4" width="47.2" height="4" fill="#747474" filter="url(#b2_50)"/><rect x="20" y="30.4" width="13" height="8" fill="#3a3a3a" filter="url(#b2_25)"/><rect x="51.2" y="30.4" width="13" height="8" fill="#3a3a3a" filter="url(#b2_25)"/><rect x="29" y="64.2" width="24" height="7" fill="#5c5c5c" filter="url(#b1_75)"/></g></g>
<g clip-path="url(#R10)"><rect x="1262.9" y="213.9" width="69.7" height="70.7" fill="#6c6c6c"/><g transform="translate(1261.5 212.5)"><ellipse cx="42" cy="42" rx="30" ry="36" fill="#828282" filter="url(#b5_00)"/><rect x="26.3" y="5.2" width="41.4" height="17.6" fill="#d0d0d0" filter="url(#b4_00)"/><ellipse cx="47" cy="14" rx="13.5" ry="7.2" fill="#f2f2f2" filter="url(#b4_50)"/><rect x="34.5" y="39" width="4" height="26" fill="#6a6a6a" filter="url(#b2_50)"/><rect x="45.5" y="39" width="4" height="26" fill="#6a6a6a" filter="url(#b2_50)"/><rect x="39.5" y="39" width="5" height="26" fill="#acacac" filter="url(#b2_00)"/><rect x="20" y="30" width="44" height="4" fill="#747474" filter="url(#b2_50)"/><rect x="21.5" y="31" width="13" height="8" fill="#6c6c6c" filter="url(#b2_25)"/><rect x="49.5" y="31" width="13" height="8" fill="#6c6c6c" filter="url(#b2_25)"/></g></g>
<g clip-path="url(#R11)"><rect x="1335.4" y="213.9" width="72.9" height="70.7" fill="#6c6c6c"/><g transform="translate(1334 212.5)"><ellipse cx="32" cy="45" rx="30" ry="34" fill="#858585" filter="url(#b5_00)"/><path d="M4,50 Q4,6 32,6 Q62,6 62,50" fill="none" stroke="#535353" stroke-width="8" stroke-linecap="round" filter="url(#b3_00)"/><rect x="6.7" y="12.3" width="50.6" height="22" fill="#c6c6c6" filter="url(#b4_00)"/><ellipse cx="32" cy="23.3" rx="16.5" ry="9" fill="#f2f2f2" filter="url(#b4_50)"/><rect x="8" y="48" width="14" height="18" fill="#c4c4c4" filter="url(#b2_50)"/><rect x="43" y="48" width="14" height="18" fill="#c4c4c4" filter="url(#b2_50)"/><rect x="24.5" y="38" width="4" height="20" fill="#6a6a6a" filter="url(#b2_50)"/><rect x="35.5" y="38" width="4" height="20" fill="#6a6a6a" filter="url(#b2_50)"/><rect x="29.5" y="38" width="5" height="20" fill="#acacac" filter="url(#b2_00)"/><rect x="11.5" y="36" width="43.1" height="4" fill="#747474" filter="url(#b2_50)"/><rect x="13" y="37" width="13" height="8" fill="#5a5a5a" filter="url(#b2_25)"/><rect x="40.1" y="37" width="13" height="8" fill="#5a5a5a" filter="url(#b2_25)"/></g></g>
<g clip-path="url(#R12)"><rect x="1411.1" y="213.9" width="71" height="70.7" fill="#6c6c6c"/><g transform="translate(1409.7 212.5)"><ellipse cx="34" cy="42" rx="30" ry="36" fill="#b4b4b4" filter="url(#b5_00)"/><rect x="11" y="6.1" width="46" height="15.8" fill="#c6c6c6" filter="url(#b4_00)"/><ellipse cx="34" cy="14" rx="15" ry="6.5" fill="#f2f2f2" filter="url(#b4_50)"/><rect x="11" y="41" width="14" height="18" fill="#e0e0e0" filter="url(#b2_50)"/><rect x="43" y="41" width="14" height="18" fill="#e0e0e0" filter="url(#b2_50)"/><rect x="26.5" y="34" width="4" height="20" fill="#6a6a6a" filter="url(#b2_50)"/><rect x="37.5" y="34" width="4" height="20" fill="#6a6a6a" filter="url(#b2_50)"/><rect x="31.5" y="34" width="5" height="20" fill="#acacac" filter="url(#b2_00)"/><rect x="12.8" y="26.7" width="43" height="4" fill="#747474" filter="url(#b2_50)"/><rect x="14.3" y="27.7" width="13" height="8" fill="#353535" filter="url(#b2_25)"/><rect x="41.3" y="27.7" width="13" height="8" fill="#353535" filter="url(#b2_25)"/><rect x="21.5" y="61.5" width="25" height="7" fill="#5c5c5c" filter="url(#b1_75)"/></g></g>
<g clip-path="url(#R13)"><rect x="1484.9" y="213.9" width="73.2" height="70.7" fill="#6c6c6c"/><g transform="translate(1483.5 212.5)"><ellipse cx="48" cy="58" rx="28" ry="30" fill="#858585" filter="url(#b5_00)"/><path d="M14,74 Q12,22 45,24 Q72,24 74,40" fill="none" stroke="#535353" stroke-width="8" stroke-linecap="round" filter="url(#b3_00)"/><rect x="28.8" y="37.2" width="41.4" height="17.6" fill="#c6c6c6" filter="url(#b4_00)"/><ellipse cx="49.5" cy="46" rx="13.5" ry="7.2" fill="#f2f2f2" filter="url(#b4_50)"/><rect x="26" y="57.8" width="40.8" height="4" fill="#747474" filter="url(#b2_50)"/><rect x="27.5" y="58.8" width="13" height="8" fill="#5a5a5a" filter="url(#b2_25)"/><rect x="52.3" y="58.8" width="13" height="8" fill="#5a5a5a" filter="url(#b2_25)"/></g></g>
<g clip-path="url(#R14)"><rect x="1560.9" y="213.9" width="73" height="70.7" fill="#6c6c6c"/><g transform="translate(1559.5 212.5)"><ellipse cx="30" cy="40" rx="30" ry="36" fill="#b0b0b0" filter="url(#b5_00)"/><rect x="9.3" y="7" width="41.4" height="14.1" fill="#c6c6c6" filter="url(#b4_00)"/><ellipse cx="30" cy="14" rx="13.5" ry="5.8" fill="#f2f2f2" filter="url(#b4_50)"/><rect x="5" y="33" width="14" height="18" fill="#dcdcdc" filter="url(#b2_50)"/><rect x="41" y="33" width="14" height="18" fill="#dcdcdc" filter="url(#b2_50)"/><rect x="2" y="16" width="47" height="4" fill="#747474" filter="url(#b2_50)"/><rect x="3.5" y="17" width="13" height="8" fill="#444444" filter="url(#b2_25)"/><rect x="34.5" y="17" width="13" height="8" fill="#444444" filter="url(#b2_25)"/><rect x="16.5" y="52" width="22" height="7" fill="#5c5c5c" filter="url(#b1_75)"/></g></g>
<g clip-path="url(#R15)"><rect x="1636.7" y="213.9" width="69.4" height="70.7" fill="#6c6c6c"/><g transform="translate(1635.3 212.5)"><ellipse cx="41" cy="40" rx="30" ry="34" fill="#b0b0b0" filter="url(#b5_00)"/><rect x="17" y="27" width="14" height="18" fill="#e4e4e4" filter="url(#b2_50)"/><rect x="51" y="27" width="14" height="18" fill="#e4e4e4" filter="url(#b2_50)"/><rect x="33.5" y="19" width="4" height="22" fill="#6a6a6a" filter="url(#b2_50)"/><rect x="44.5" y="19" width="4" height="22" fill="#6a6a6a" filter="url(#b2_50)"/><rect x="38.5" y="19" width="5" height="22" fill="#acacac" filter="url(#b2_00)"/><rect x="18.5" y="10.5" width="47.2" height="4" fill="#747474" filter="url(#b2_50)"/><rect x="20" y="11.5" width="13" height="8" fill="#444444" filter="url(#b2_25)"/><rect x="51.2" y="11.5" width="13" height="8" fill="#444444" filter="url(#b2_25)"/><rect x="26" y="48" width="30" height="7" fill="#5c5c5c" filter="url(#b1_75)"/></g></g>
<g clip-path="url(#R20)"><rect x="1262.9" y="287.4" width="69.7" height="73.7" fill="#6c6c6c"/><g transform="translate(1261.5 286)"><ellipse cx="36" cy="30" rx="30" ry="34" fill="#b4b4b4" filter="url(#b5_00)"/><rect x="11" y="16" width="14" height="18" fill="#e0e0e0" filter="url(#b2_50)"/><rect x="49" y="16" width="14" height="18" fill="#e0e0e0" filter="url(#b2_50)"/><rect x="28.5" y="12" width="4" height="16" fill="#6a6a6a" filter="url(#b2_50)"/><rect x="39.5" y="12" width="4" height="16" fill="#6a6a6a" filter="url(#b2_50)"/><rect x="33.5" y="12" width="5" height="16" fill="#acacac" filter="url(#b2_00)"/><rect x="13.6" y="3.5" width="49.4" height="4" fill="#747474" filter="url(#b2_50)"/><rect x="15.1" y="4.5" width="13" height="8" fill="#555555" filter="url(#b2_25)"/><rect x="48.5" y="4.5" width="13" height="8" fill="#555555" filter="url(#b2_25)"/><rect x="24" y="39" width="28" height="8" fill="#5c5c5c" filter="url(#b1_75)"/><path d="M14,38 Q36,62 58,38" fill="none" stroke="#e8e8e8" stroke-width="6" stroke-linecap="round" filter="url(#b2_50)"/></g></g>
<g clip-path="url(#R21)"><rect x="1335.4" y="287.4" width="72.9" height="73.7" fill="#6c6c6c"/><g transform="translate(1334 286)"><ellipse cx="45" cy="42" rx="28" ry="36" fill="#909090" filter="url(#b5_00)"/><rect x="20" y="3.8" width="50.6" height="17.6" fill="#c6c6c6" filter="url(#b4_00)"/><ellipse cx="45.3" cy="12.6" rx="16.5" ry="7.2" fill="#f2f2f2" filter="url(#b4_50)"/><rect x="26" y="41" width="14" height="18" fill="#b4b4b4" filter="url(#b2_50)"/><rect x="55" y="41" width="14" height="18" fill="#b4b4b4" filter="url(#b2_50)"/><rect x="40.5" y="38" width="4" height="20" fill="#6a6a6a" filter="url(#b2_50)"/><rect x="51.5" y="38" width="4" height="20" fill="#6a6a6a" filter="url(#b2_50)"/><rect x="45.5" y="38" width="5" height="20" fill="#acacac" filter="url(#b2_00)"/><rect x="25" y="26.5" width="47.4" height="4" fill="#747474" filter="url(#b2_50)"/><rect x="26.5" y="27.5" width="13" height="8" fill="#5a5a5a" filter="url(#b2_25)"/><rect x="57.9" y="27.5" width="13" height="8" fill="#5a5a5a" filter="url(#b2_25)"/><rect x="32" y="61.5" width="26" height="7" fill="#6a6a6a" filter="url(#b1_75)"/></g></g>
<g clip-path="url(#R22)"><rect x="1411.1" y="287.4" width="71" height="73.7" fill="#6c6c6c"/><g transform="translate(1409.7 286)"><ellipse cx="36" cy="40" rx="30" ry="36" fill="#909090" filter="url(#b5_00)"/><rect x="11.3" y="5" width="50.6" height="19.4" fill="#c6c6c6" filter="url(#b4_00)"/><ellipse cx="36.6" cy="14.7" rx="16.5" ry="7.9" fill="#f2f2f2" filter="url(#b4_50)"/><rect x="15" y="37" width="14" height="18" fill="#c8c8c8" filter="url(#b2_50)"/><rect x="45" y="37" width="14" height="18" fill="#c8c8c8" filter="url(#b2_50)"/><rect x="14" y="23" width="43" height="4" fill="#747474" filter="url(#b2_50)"/><rect x="15.5" y="24" width="13" height="8" fill="#5a5a5a" filter="url(#b2_25)"/><rect x="42.5" y="24" width="13" height="8" fill="#5a5a5a" filter="url(#b2_25)"/><rect x="23.5" y="56.5" width="25" height="7" fill="#6a6a6a" filter="url(#b1_75)"/></g></g>
<g clip-path="url(#R23)"><rect x="1484.9" y="287.4" width="73.2" height="73.7" fill="#6c6c6c"/><g transform="translate(1483.5 286)"><ellipse cx="39" cy="36" rx="28" ry="34" fill="#a8a8a8" filter="url(#b5_00)"/><rect x="15" y="21" width="14" height="18" fill="#d8d8d8" filter="url(#b2_50)"/><rect x="49" y="21" width="14" height="18" fill="#d8d8d8" filter="url(#b2_50)"/><rect x="17.7" y="3.5" width="45.3" height="4" fill="#747474" filter="url(#b2_50)"/><rect x="19.2" y="4.5" width="13" height="8" fill="#5a5a5a" filter="url(#b2_25)"/><rect x="48.5" y="4.5" width="13" height="8" fill="#5a5a5a" filter="url(#b2_25)"/><rect x="33" y="25" width="14" height="10" fill="#888888" filter="url(#b1_75)"/><path d="M18,36 Q40,68 60,36" fill="none" stroke="#e8e8e8" stroke-width="6" stroke-linecap="round" filter="url(#b2_50)"/></g></g>
<g clip-path="url(#R24)"><rect x="1560.9" y="287.4" width="73" height="73.7" fill="#6c6c6c"/><g transform="translate(1559.5 286)"><ellipse cx="27" cy="38" rx="28" ry="36" fill="#8a8a8a" filter="url(#b5_00)"/><rect x="3" y="8.2" width="46" height="19.4" fill="#c6c6c6" filter="url(#b4_00)"/><ellipse cx="26" cy="17.9" rx="15" ry="7.9" fill="#f2f2f2" filter="url(#b4_50)"/><rect x="18.5" y="38" width="4" height="20" fill="#6a6a6a" filter="url(#b2_50)"/><rect x="29.5" y="38" width="4" height="20" fill="#6a6a6a" filter="url(#b2_50)"/><rect x="23.5" y="38" width="5" height="20" fill="#acacac" filter="url(#b2_00)"/><rect x="3.5" y="31.7" width="45.2" height="4" fill="#747474" filter="url(#b2_50)"/><rect x="5" y="32.7" width="13" height="8" fill="#5a5a5a" filter="url(#b2_25)"/><rect x="34.2" y="32.7" width="13" height="8" fill="#5a5a5a" filter="url(#b2_25)"/><rect x="11" y="58.5" width="30" height="9" fill="#4a4a4a" filter="url(#b1_75)"/></g></g>
<g clip-path="url(#R25)"><rect x="1636.7" y="287.4" width="69.4" height="73.7" fill="#6c6c6c"/><g transform="translate(1635.3 286)"><ellipse cx="26" cy="40" rx="28" ry="36" fill="#909090" filter="url(#b5_00)"/><rect x="2.6" y="8" width="46" height="22" fill="#c6c6c6" filter="url(#b4_00)"/><ellipse cx="25.6" cy="19" rx="15" ry="9" fill="#f2f2f2" filter="url(#b4_50)"/><rect x="4" y="46" width="14" height="18" fill="#c8c8c8" filter="url(#b2_50)"/><rect x="35" y="46" width="14" height="18" fill="#c8c8c8" filter="url(#b2_50)"/><rect x="18.5" y="40" width="4" height="20" fill="#6a6a6a" filter="url(#b2_50)"/><rect x="29.5" y="40" width="4" height="20" fill="#6a6a6a" filter="url(#b2_50)"/><rect x="23.5" y="40" width="5" height="20" fill="#acacac" filter="url(#b2_00)"/><rect x="3" y="32.7" width="45.3" height="4" fill="#747474" filter="url(#b2_50)"/><rect x="4.5" y="33.7" width="13" height="8" fill="#5a5a5a" filter="url(#b2_25)"/><rect x="33.8" y="33.7" width="13" height="8" fill="#5a5a5a" filter="url(#b2_25)"/></g></g>
<g clip-path="url(#R30)"><rect x="1262.9" y="363.9" width="69.7" height="70.2" fill="#6c6c6c"/><g transform="translate(1261.5 362.5)"><ellipse cx="24" cy="40" rx="28" ry="36" fill="#808080" filter="url(#b5_00)"/><rect x="1.6" y="-0.3" width="44.2" height="19.4" fill="#c6c6c6" filter="url(#b4_00)"/><ellipse cx="23.7" cy="9.4" rx="14.4" ry="7.9" fill="#f2f2f2" filter="url(#b4_50)"/><rect x="3" y="41" width="14" height="18" fill="#9c9c9c" filter="url(#b2_50)"/><rect x="33" y="41" width="14" height="18" fill="#9c9c9c" filter="url(#b2_50)"/><rect x="15.5" y="35" width="4" height="26" fill="#6a6a6a" filter="url(#b2_50)"/><rect x="26.5" y="35" width="4" height="26" fill="#6a6a6a" filter="url(#b2_50)"/><rect x="20.5" y="35" width="5" height="26" fill="#acacac" filter="url(#b2_00)"/><rect x="1" y="23.2" width="45" height="4" fill="#747474" filter="url(#b2_50)"/><rect x="2.5" y="24.2" width="13" height="8" fill="#5a5a5a" filter="url(#b2_25)"/><rect x="31.5" y="24.2" width="13" height="8" fill="#5a5a5a" filter="url(#b2_25)"/></g></g>
<g clip-path="url(#R31)"><rect x="1335.4" y="363.9" width="72.9" height="70.2" fill="#6c6c6c"/><g transform="translate(1334 362.5)"><ellipse cx="37" cy="48" rx="30" ry="30" fill="#858585" filter="url(#b5_00)"/><path d="M6,72 Q4,10 37,10 Q70,10 70,60" fill="none" stroke="#535353" stroke-width="8" stroke-linecap="round" filter="url(#b3_00)"/><rect x="11.7" y="15" width="50.6" height="22" fill="#c6c6c6" filter="url(#b4_00)"/><ellipse cx="37" cy="26" rx="16.5" ry="9" fill="#f2f2f2" filter="url(#b4_50)"/><rect x="20.6" y="50.5" width="45.3" height="4" fill="#747474" filter="url(#b2_50)"/><rect x="22.1" y="51.5" width="13" height="8" fill="#5a5a5a" filter="url(#b2_25)"/><rect x="51.4" y="51.5" width="13" height="8" fill="#5a5a5a" filter="url(#b2_25)"/></g></g>
<g clip-path="url(#R32)"><rect x="1411.1" y="363.9" width="71" height="70.2" fill="#6c6c6c"/><g transform="translate(1409.7 362.5)"><ellipse cx="32" cy="40" rx="30" ry="36" fill="#a0a0a0" filter="url(#b5_00)"/><rect x="7.1" y="0.5" width="50.6" height="22" fill="#c6c6c6" filter="url(#b4_00)"/><ellipse cx="32.4" cy="11.5" rx="16.5" ry="9" fill="#f2f2f2" filter="url(#b4_50)"/><rect x="8" y="38" width="14" height="18" fill="#d8d8d8" filter="url(#b2_50)"/><rect x="41" y="38" width="14" height="18" fill="#d8d8d8" filter="url(#b2_50)"/><rect x="24.5" y="30" width="4" height="20" fill="#6a6a6a" filter="url(#b2_50)"/><rect x="35.5" y="30" width="4" height="20" fill="#6a6a6a" filter="url(#b2_50)"/><rect x="29.5" y="30" width="5" height="20" fill="#acacac" filter="url(#b2_00)"/><rect x="7.7" y="23.2" width="43.3" height="4" fill="#747474" filter="url(#b2_50)"/><rect x="9.2" y="24.2" width="13" height="8" fill="#5a5a5a" filter="url(#b2_25)"/><rect x="36.5" y="24.2" width="13" height="8" fill="#5a5a5a" filter="url(#b2_25)"/><rect x="19.9" y="58" width="25" height="7" fill="#5c5c5c" filter="url(#b1_75)"/></g></g>
<g clip-path="url(#R33)"><rect x="1484.9" y="363.9" width="73.2" height="70.2" fill="#6c6c6c"/><g transform="translate(1483.5 362.5)"><ellipse cx="46" cy="48" rx="28" ry="32" fill="#858585" filter="url(#b5_00)"/><path d="M14,70 Q10,10 46,10 Q72,10 74,30" fill="none" stroke="#535353" stroke-width="8" stroke-linecap="round" filter="url(#b3_00)"/><rect x="24.9" y="10.3" width="41.4" height="19.4" fill="#c6c6c6" filter="url(#b4_00)"/><ellipse cx="45.6" cy="20" rx="13.5" ry="7.9" fill="#f2f2f2" filter="url(#b4_50)"/><rect x="30.7" y="40" width="39.1" height="4" fill="#747474" filter="url(#b2_50)"/><rect x="32.2" y="41" width="13" height="8" fill="#5a5a5a" filter="url(#b2_25)"/><rect x="55.3" y="41" width="13" height="8" fill="#5a5a5a" filter="url(#b2_25)"/></g></g>
<g clip-path="url(#R34)"><rect x="1560.9" y="363.9" width="73" height="70.2" fill="#6c6c6c"/><g transform="translate(1559.5 362.5)"><ellipse cx="24" cy="40" rx="28" ry="36" fill="#8e8e8e" filter="url(#b5_00)"/><rect x="1" y="0.5" width="46" height="22" fill="#c6c6c6" filter="url(#b4_00)"/><ellipse cx="24" cy="11.5" rx="15" ry="9" fill="#f2f2f2" filter="url(#b4_50)"/><rect x="3" y="38" width="14" height="18" fill="#bcbcbc" filter="url(#b2_50)"/><rect x="31" y="38" width="14" height="18" fill="#bcbcbc" filter="url(#b2_50)"/><rect x="16.5" y="34" width="4" height="22" fill="#6a6a6a" filter="url(#b2_50)"/><rect x="27.5" y="34" width="4" height="22" fill="#6a6a6a" filter="url(#b2_50)"/><rect x="21.5" y="34" width="5" height="22" fill="#acacac" filter="url(#b2_00)"/><rect x="1.4" y="25.3" width="43.2" height="4" fill="#747474" filter="url(#b2_50)"/><rect x="2.9" y="26.3" width="13" height="8" fill="#5a5a5a" filter="url(#b2_25)"/><rect x="30.1" y="26.3" width="13" height="8" fill="#5a5a5a" filter="url(#b2_25)"/></g></g>
<g clip-path="url(#R35)"><rect x="1636.7" y="363.9" width="69.4" height="70.2" fill="#6c6c6c"/><g transform="translate(1635.3 362.5)"><ellipse cx="26" cy="48" rx="30" ry="32" fill="#858585" filter="url(#b5_00)"/><path d="M4,70 Q4,10 30,10 Q60,10 62,50" fill="none" stroke="#535353" stroke-width="8" stroke-linecap="round" filter="url(#b3_00)"/><rect x="0.3" y="14.8" width="50.6" height="26.4" fill="#c6c6c6" filter="url(#b4_00)"/><ellipse cx="25.6" cy="28" rx="16.5" ry="10.8" fill="#f2f2f2" filter="url(#b4_50)"/><rect x="1.6" y="48.5" width="47.4" height="4" fill="#747474" filter="url(#b2_50)"/><rect x="3.1" y="49.5" width="13" height="8" fill="#5a5a5a" filter="url(#b2_25)"/><rect x="34.5" y="49.5" width="13" height="8" fill="#5a5a5a" filter="url(#b2_25)"/></g></g>
</g>
<text transform="translate(77.89 89) scale(0.9189 1.0)" font-size="68.2">L</text>
<text transform="translate(112.74 89) scale(0.9189 0.9)" font-size="68.2">o</text>
<text transform="translate(147.60 89) scale(0.9189 0.9)" font-size="68.2">w</text>
<text transform="translate(211.91 89) scale(0.8334 1.0)" font-size="68.2">L</text>
<text transform="translate(243.52 89) scale(0.8334 0.9)" font-size="68.2">e</text>
<text transform="translate(275.14 89) scale(0.8334 0.9)" font-size="68.2">v</text>
<text transform="translate(303.56 89) scale(0.8334 0.9)" font-size="68.2">e</text>
<text transform="translate(335.17 89) scale(0.8334 0.965)" font-size="68.2">l</text>
<text transform="translate(365.43 89) scale(0.8302 1.0)" font-size="68.2">F</text>
<text transform="translate(400.03 89) scale(0.8302 0.9)" font-size="68.2">e</text>
<text transform="translate(431.52 89) scale(0.8302 0.9)" font-size="68.2">a</text>
<text transform="translate(463.01 89) scale(0.8302 0.965)" font-size="68.2">t</text>
<text transform="translate(478.75 89) scale(0.8302 0.9)" font-size="68.2">u</text>
<text transform="translate(510.24 89) scale(0.8302 0.9)" font-size="68.2">r</text>
<text transform="translate(529.10 89) scale(0.8302 0.9)" font-size="68.2">e</text>
<text transform="translate(560.59 89) scale(0.8302 0.9)" font-size="68.2">s</text>
<text transform="translate(645.84 90) scale(0.9267 1.0)" font-size="68.2">M</text>
<text transform="translate(698.49 90) scale(0.9267 0.965)" font-size="68.2">i</text>
<text transform="translate(712.53 90) scale(0.9267 0.965)" font-size="68.2">d</text>
<text transform="translate(764.66 90) scale(0.8413 1.0)" font-size="68.2">L</text>
<text transform="translate(796.58 90) scale(0.8413 0.9)" font-size="68.2">e</text>
<text transform="translate(828.49 90) scale(0.8413 0.9)" font-size="68.2">v</text>
<text transform="translate(857.18 90) scale(0.8413 0.9)" font-size="68.2">e</text>
<text transform="translate(889.09 90) scale(0.8413 0.965)" font-size="68.2">l</text>
<text transform="translate(918.94 90) scale(0.8283 1.0)" font-size="68.2">F</text>
<text transform="translate(953.46 90) scale(0.8283 0.9)" font-size="68.2">e</text>
<text transform="translate(984.88 90) scale(0.8283 0.9)" font-size="68.2">a</text>
<text transform="translate(1016.30 90) scale(0.8283 0.965)" font-size="68.2">t</text>
<text transform="translate(1032.00 90) scale(0.8283 0.9)" font-size="68.2">u</text>
<text transform="translate(1063.42 90) scale(0.8283 0.9)" font-size="68.2">r</text>
<text transform="translate(1082.23 90) scale(0.8283 0.9)" font-size="68.2">e</text>
<text transform="translate(1113.65 90) scale(0.8283 0.9)" font-size="68.2">s</text>
<text transform="translate(1223.14 89) scale(0.8780 1.0)" font-size="68.2">H</text>
<text transform="translate(1266.38 89) scale(0.8780 0.965)" font-size="68.2">i</text>
<text transform="translate(1279.69 89) scale(0.8780 0.9)" font-size="68.2">g</text>
<text transform="translate(1313.00 89) scale(0.8780 0.965)" font-size="68.2">h</text>
<text transform="translate(1363.77 89) scale(0.8393 1.0)" font-size="68.2">L</text>
<text transform="translate(1395.61 89) scale(0.8393 0.9)" font-size="68.2">e</text>
<text transform="translate(1427.45 89) scale(0.8393 0.9)" font-size="68.2">v</text>
<text transform="translate(1456.07 89) scale(0.8393 0.9)" font-size="68.2">e</text>
<text transform="translate(1487.91 89) scale(0.8393 0.965)" font-size="68.2">l</text>
<text transform="translate(1518.33 89) scale(0.8306 1.0)" font-size="68.2">F</text>
<text transform="translate(1552.94 89) scale(0.8306 0.9)" font-size="68.2">e</text>
<text transform="translate(1584.45 89) scale(0.8306 0.9)" font-size="68.2">a</text>
<text transform="translate(1615.95 89) scale(0.8306 0.965)" font-size="68.2">t</text>
<text transform="translate(1631.70 89) scale(0.8306 0.9)" font-size="68.2">u</text>
<text transform="translate(1663.21 89) scale(0.8306 0.9)" font-size="68.2">r</text>
<text transform="translate(1682.07 89) scale(0.8306 0.9)" font-size="68.2">e</text>
<text transform="translate(1713.58 89) scale(0.8306 0.9)" font-size="68.2">s</text>
<text transform="translate(254.47 539) scale(0.7908 1.0)" font-size="68.2">E</text>
<text transform="translate(290.45 539) scale(0.7908 0.965)" font-size="68.2">d</text>
<text transform="translate(320.45 539) scale(0.7908 0.9)" font-size="68.2">g</text>
<text transform="translate(350.45 539) scale(0.7908 0.9)" font-size="68.2">e</text>
<text transform="translate(380.45 539) scale(0.7908 0.9)" font-size="68.2">s</text>
<text transform="translate(185.06 620) scale(0.9560 1.0)" font-size="68.2">D</text>
<text transform="translate(232.15 620) scale(0.9560 0.9)" font-size="68.2">a</text>
<text transform="translate(268.42 620) scale(0.9560 0.9)" font-size="68.2">r</text>
<text transform="translate(290.13 620) scale(0.9560 0.965)" font-size="68.2">k</text>
<text transform="translate(337.17 620) scale(0.8599 0.9)" font-size="68.2">s</text>
<text transform="translate(366.50 620) scale(0.8599 0.9)" font-size="68.2">p</text>
<text transform="translate(399.12 620) scale(0.8599 0.9)" font-size="68.2">o</text>
<text transform="translate(431.74 620) scale(0.8599 0.965)" font-size="68.2">t</text>
<text transform="translate(448.04 620) scale(0.8599 0.9)" font-size="68.2">s</text>
<text transform="translate(817.95 530) scale(0.7607 1.0)" font-size="68.2">E</text>
<text transform="translate(852.57 530) scale(0.7607 0.9)" font-size="68.2">y</text>
<text transform="translate(878.51 530) scale(0.7607 0.9)" font-size="68.2">e</text>
<text transform="translate(907.36 530) scale(0.7607 0.9)" font-size="68.2">s</text>
<text transform="translate(819.44 611) scale(0.7951 1.0)" font-size="68.2">E</text>
<text transform="translate(855.62 611) scale(0.7951 0.9)" font-size="68.2">a</text>
<text transform="translate(885.78 611) scale(0.7951 0.9)" font-size="68.2">r</text>
<text transform="translate(903.84 611) scale(0.7951 0.9)" font-size="68.2">s</text>
<text transform="translate(802.30 689) scale(0.9162 1.0)" font-size="68.2">N</text>
<text transform="translate(847.44 689) scale(0.9162 0.9)" font-size="68.2">o</text>
<text transform="translate(882.19 689) scale(0.9162 0.9)" font-size="68.2">s</text>
<text transform="translate(913.44 689) scale(0.9162 0.9)" font-size="68.2">e</text>
<text transform="translate(1293.55 574) scale(0.7944 1.0)" font-size="68.2">F</text>
<text transform="translate(1326.65 574) scale(0.7944 0.9)" font-size="68.2">a</text>
<text transform="translate(1356.79 574) scale(0.7944 0.9)" font-size="68.2">c</text>
<text transform="translate(1383.88 574) scale(0.7944 0.9)" font-size="68.2">e</text>
<text transform="translate(1429.65 574) scale(0.8968 1.0)" font-size="68.2">S</text>
<text transform="translate(1470.46 574) scale(0.8968 0.965)" font-size="68.2">t</text>
<text transform="translate(1487.46 574) scale(0.8968 0.9)" font-size="68.2">r</text>
<text transform="translate(1507.83 574) scale(0.8968 0.9)" font-size="68.2">u</text>
<text transform="translate(1541.85 574) scale(0.8968 0.9)" font-size="68.2">c</text>
<text transform="translate(1572.43 574) scale(0.8968 0.965)" font-size="68.2">t</text>
<text transform="translate(1589.43 574) scale(0.8968 0.9)" font-size="68.2">u</text>
<text transform="translate(1623.45 574) scale(0.8968 0.9)" font-size="68.2">r</text>
<text transform="translate(1643.82 574) scale(0.8968 0.9)" font-size="68.2">e</text>

<line x1="562" y1="286" x2="650" y2="286" stroke="#ED7D31" stroke-width="3.8"/>
<path d="M648.7,278.5 L664.4,286.5 L648.7,294.8z" fill="#ED7D31"/>
<line x1="1129.4" y1="286.7" x2="1240" y2="286.7" stroke="#ED7D31" stroke-width="3.8"/>
<path d="M1239,278.8 L1254.9,286.7 L1239,294.5z" fill="#ED7D31"/>
<g stroke="#000" stroke-width="2.6" fill="none">
<line x1="514" y1="515" x2="738" y2="554"/>
<line x1="514" y1="556.5" x2="738" y2="556.5"/>
<line x1="514" y1="603.5" x2="738" y2="559"/>
<line x1="985" y1="514" x2="1209" y2="553"/>
<line x1="985" y1="555.5" x2="1209" y2="555.5"/>
<line x1="985" y1="602.5" x2="1209" y2="558"/>
</g>
<path d="M735,546 L751,556.5 L735,567.5z" fill="#000"/>
<path d="M1206,545 L1222,555.5 L1206,566.5z" fill="#000"/>

</svg>
</body></html>
